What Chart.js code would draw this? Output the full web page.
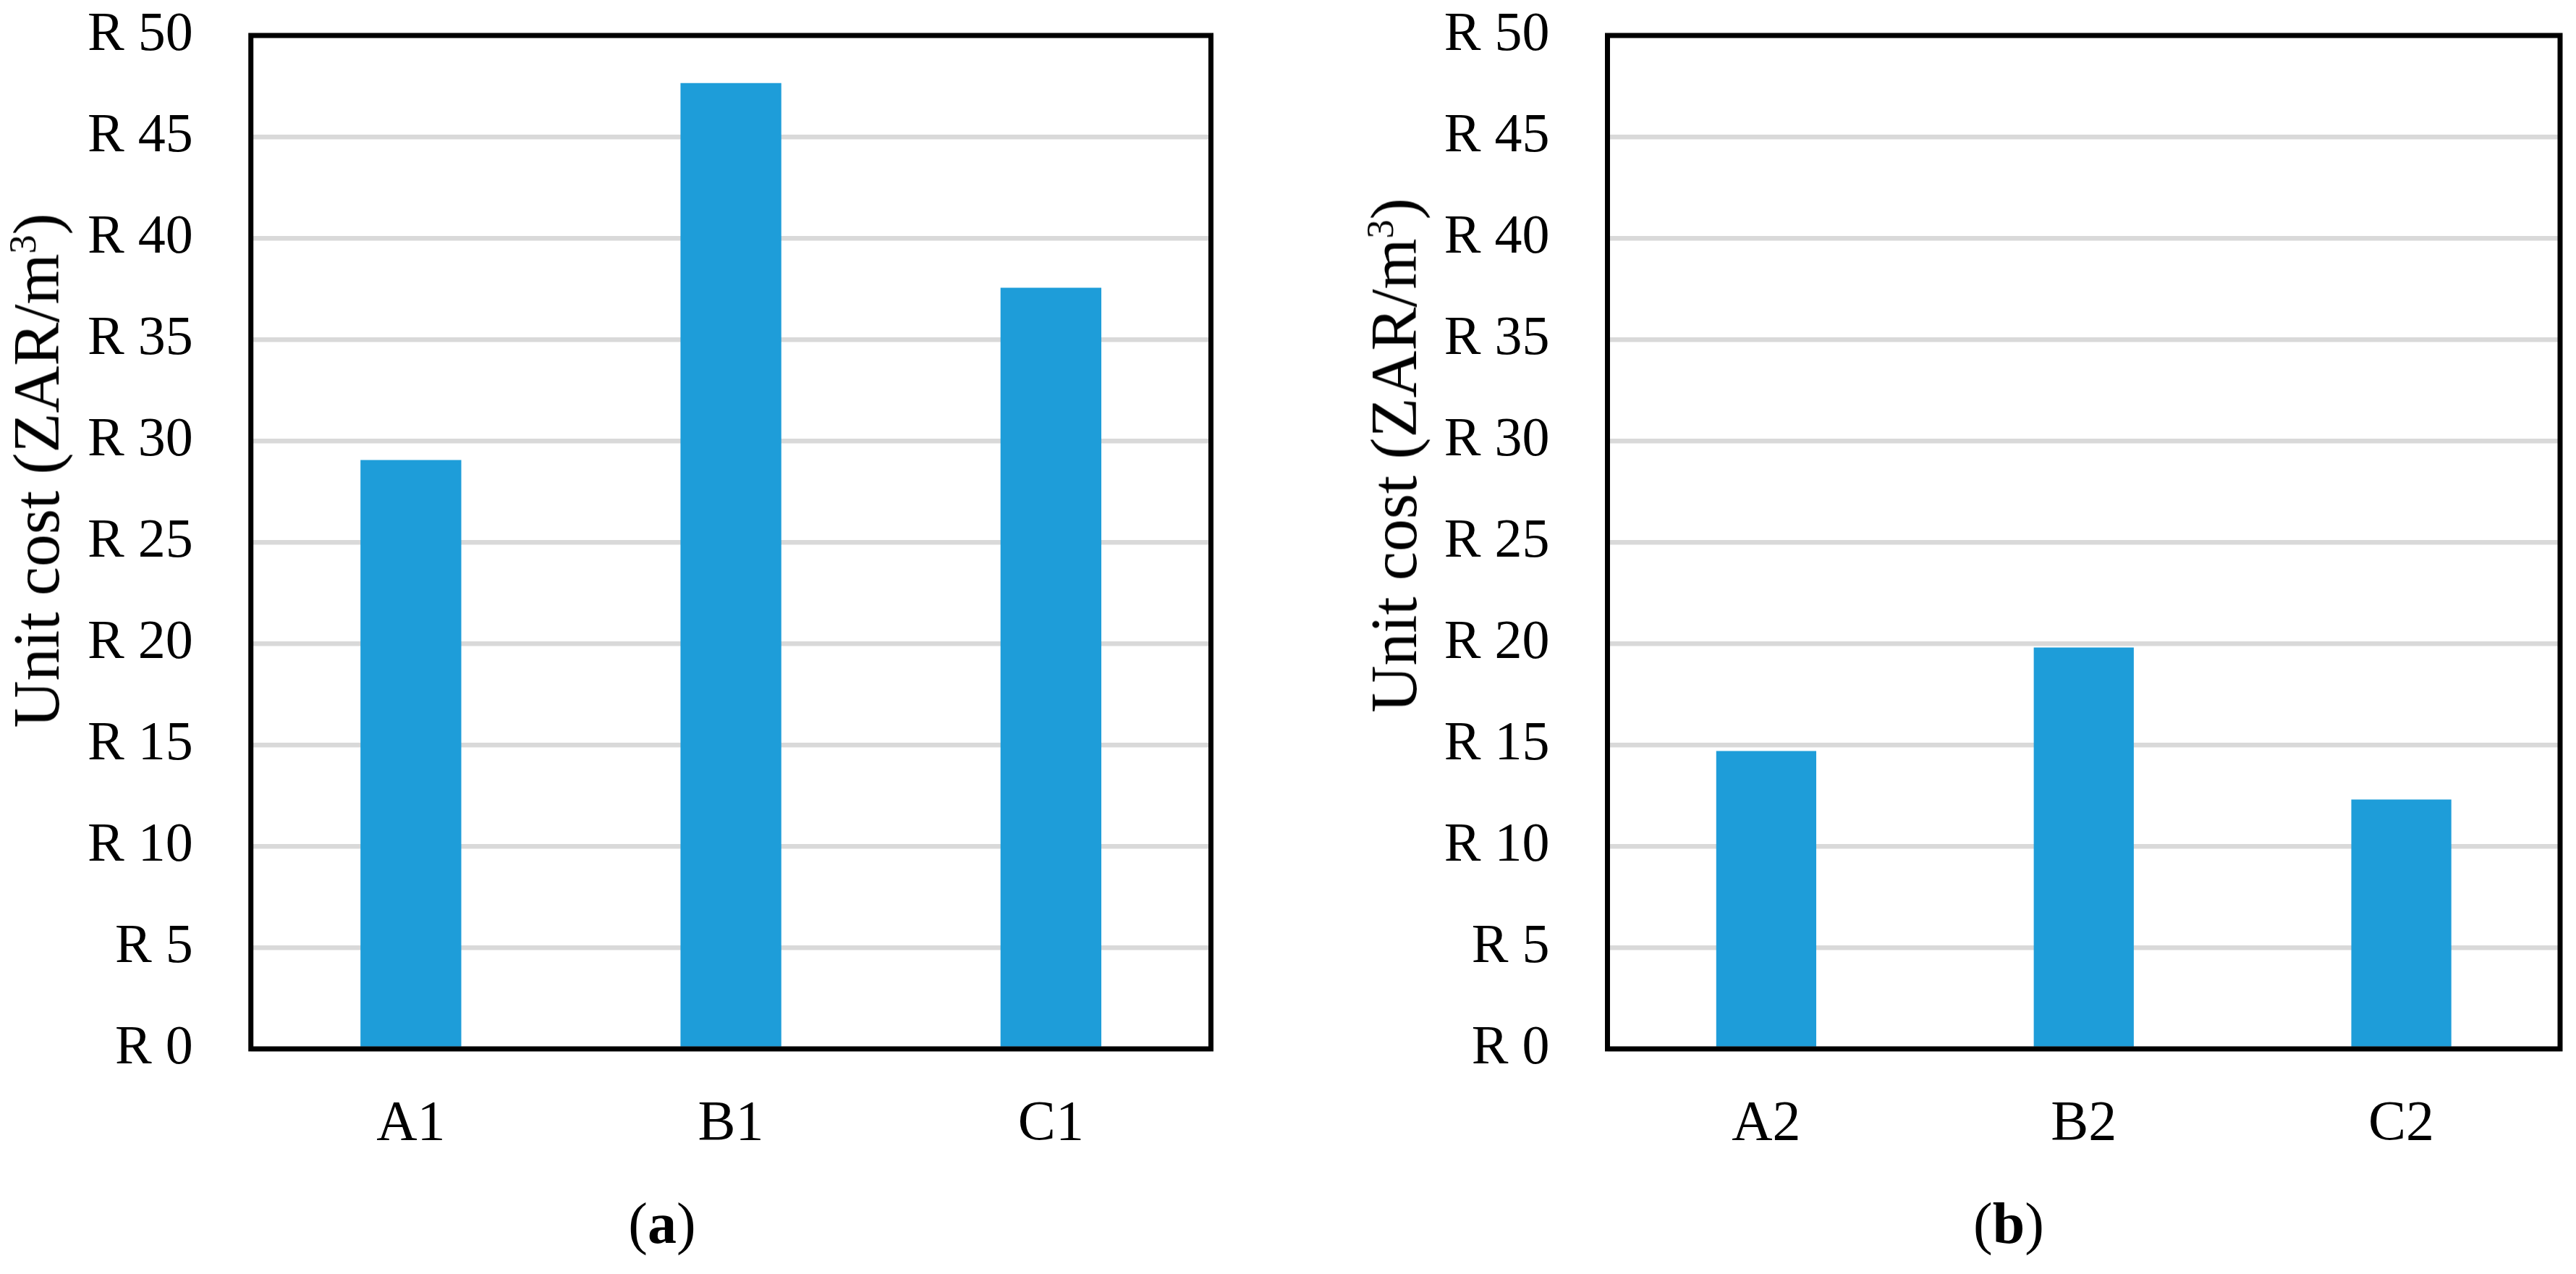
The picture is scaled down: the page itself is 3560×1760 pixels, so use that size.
<!DOCTYPE html>
<html>
<head>
<meta charset="utf-8">
<script src="https://cdn.jsdelivr.net/npm/chart.js@4"></script>
<style>
  html, body { margin: 0; padding: 0; background: #fff; }
  body { width: 3560px; height: 1760px; position: relative; overflow: hidden;
         font-family: "Liberation Serif", "Times New Roman", serif; color: #000; }
  canvas { position: absolute; top: 0; }
  #chartA { left: 0; width: 1700px; height: 1760px; }
  #chartB { left: 1800px; width: 1760px; height: 1760px; }
  .ytitle { position: absolute; font-size: 90px; line-height: 90px; white-space: nowrap;
            transform: translate(-50%, -50%) rotate(-90deg); }
  .ytitle sup { font-size: 58%; line-height: 0; vertical-align: 0.62em; }
  .caption { position: absolute; top: 1650px; font-size: 80px; line-height: 80px;
             white-space: nowrap; transform: translateX(-50%); }
</style>
</head>
<body>
<canvas id="chartA" width="1700" height="1760"></canvas>
<canvas id="chartB" width="1760" height="1760"></canvas>
<div class="ytitle" style="left:51px; top:650px;">Unit cost (ZAR/m<sup>3</sup>)</div>
<div class="ytitle" style="left:1927px; top:629px;">Unit cost (ZAR/m<sup>3</sup>)</div>
<div class="caption" style="left:915px;">(<b>a</b>)</div>
<div class="caption" style="left:2776px;">(<b>b</b>)</div>
<script>
const labelsA = ["A1", "B1", "C1"];
const costsA = [29.05, 47.65, 37.55];

const labelsB = ["A2", "B2", "C2"];
const costsB = [14.7, 19.8, 12.3];

const yMin = 0;
const yMax = 50;
const yStep = 5;
const currency = "R ";

const barColor = "#1e9dd9";
const gridColor = "#d9d9d9";
const fontFamily = '"Liberation Serif", "Times New Roman", serif';

// black box round the plot area
const frame = {
  id: "frame",
  afterDraw(chart) {
    const a = chart.chartArea;
    const ctx = chart.ctx;
    ctx.save();
    ctx.strokeStyle = "#000";
    ctx.lineWidth = 7;
    ctx.lineJoin = "miter";
    ctx.strokeRect(a.left, a.top, a.right - a.left, a.bottom - a.top);
    ctx.restore();
  },
};

function makeChart(id, labels, values, axisWidth, padRight) {
  const ctx = document.getElementById(id).getContext("2d");
  return new Chart(ctx, {
    type: "bar",
    data: {
      labels: labels,
      datasets: [
        {
          data: values,
          backgroundColor: barColor,
          borderWidth: 0,
          categoryPercentage: 1,
          barPercentage: 0.315,
        },
      ],
    },
    options: {
      responsive: false,
      animation: false,
      devicePixelRatio: 1,
      layout: { padding: { top: 49, right: padRight, left: 0, bottom: 0 } },
      plugins: { legend: { display: false }, tooltip: { enabled: false } },
      scales: {
        x: {
          grid: { display: false, drawTicks: false },
          border: { display: false },
          ticks: { color: "#000", padding: 58, font: { family: fontFamily, size: 78 } },
          afterFit: (scale) => {
            scale.height = 311;
            scale.paddingLeft = 0;
            scale.paddingRight = 0;
          },
        },
        y: {
          min: yMin,
          max: yMax,
          grid: { color: gridColor, lineWidth: 6.5, drawTicks: false },
          border: { display: false },
          ticks: {
            stepSize: yStep,
            color: "#000",
            padding: 80,
            font: { family: fontFamily, size: 76 },
            callback: (v) => currency + v,
          },
          afterFit: (scale) => {
            scale.width = axisWidth;
            scale.paddingTop = 0;
            scale.paddingBottom = 0;
          },
        },
      },
    },
    plugins: [frame],
  });
}

window.onload = function () {
  makeChart("chartA", labelsA, costsA, 346.7, 26.5);
  makeChart("chartB", labelsB, costsB, 421.5, 22);
};
</script>
</body>
</html>
